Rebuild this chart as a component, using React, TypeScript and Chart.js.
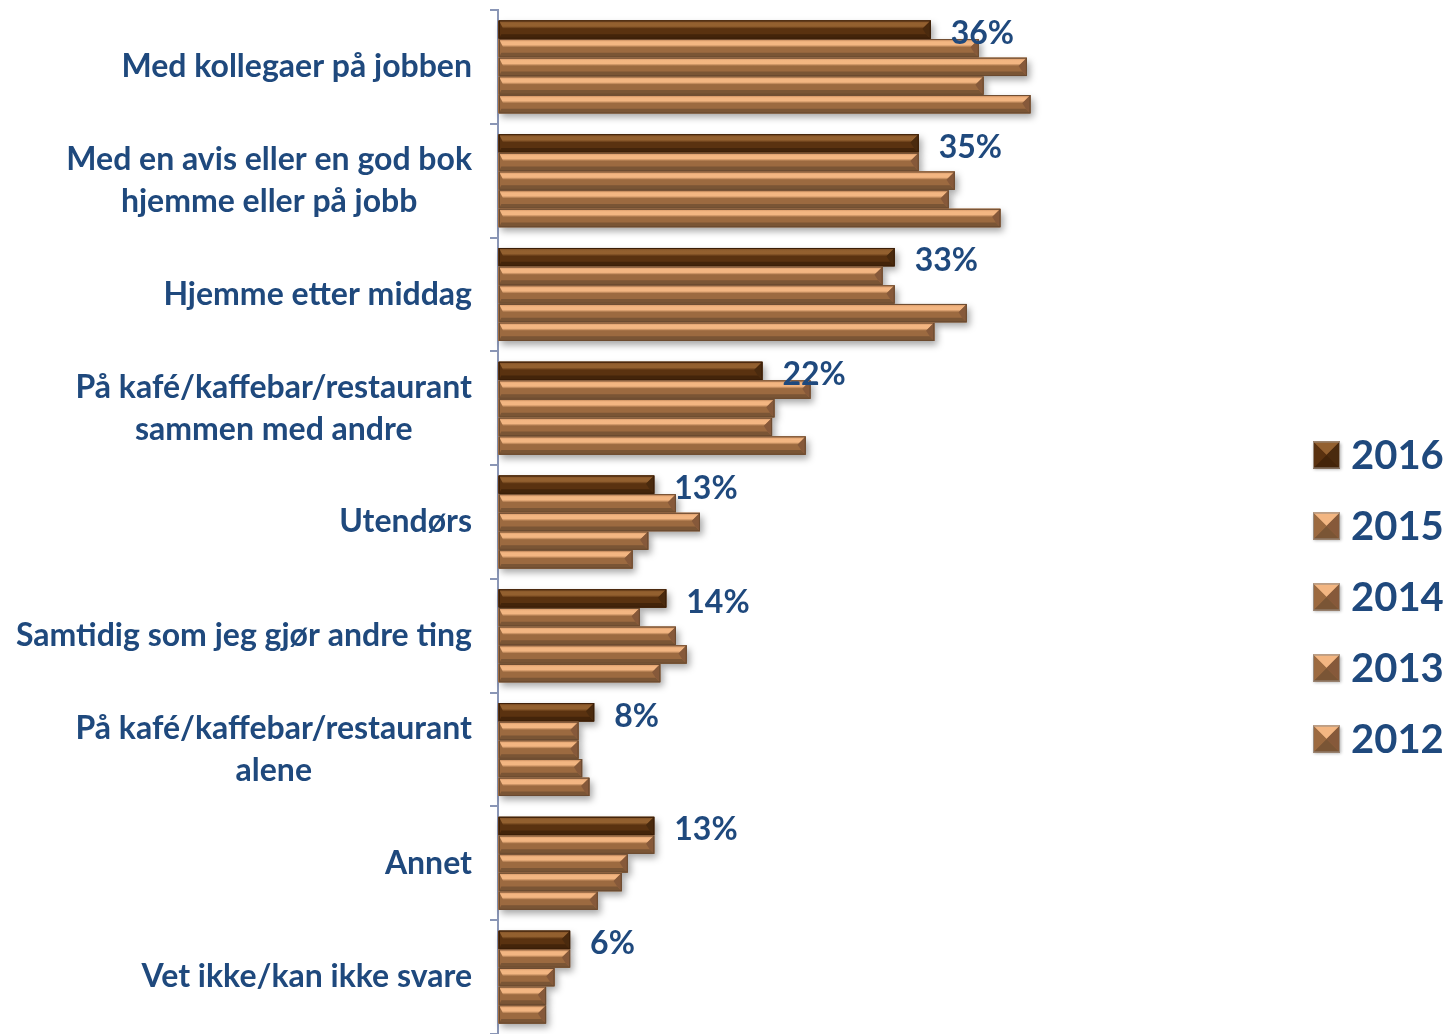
import { useEffect, useRef } from "react";
import { Chart, registerables } from "chart.js";
Chart.register(...registerables);

const categories: string[][] = [
  ["Med kollegaer på jobben"],
  ["Med en avis eller en god bok", "hjemme eller på jobb"],
  ["Hjemme etter middag"],
  ["På kafé/kaffebar/restaurant", "sammen med andre"],
  ["Utendørs"],
  ["Samtidig som jeg gjør andre ting"],
  ["På kafé/kaffebar/restaurant", "alene"],
  ["Annet"],
  ["Vet ikke/kan ikke svare"],
];
const years = ["2016", "2015", "2014", "2013", "2012"];
const v2016 = [36, 35, 33, 22, 13, 14, 8, 13, 6];
const v2015 = [40, 35, 32, 26, 14.8, 11.8, 6.7, 13, 6];
const v2014 = [44, 38, 33, 23, 16.8, 14.8, 6.7, 10.8, 4.7];
const v2013 = [40.4, 37.5, 39, 22.8, 12.5, 15.7, 7, 10.3, 4];
const v2012 = [44.3, 41.8, 36.3, 25.6, 11.2, 13.5, 7.6, 8.3, 4];
const series = [v2016, v2015, v2014, v2013, v2012];
const valueLabels = ["36%", "35%", "33%", "22%", "13%", "14%", "8%", "13%", "6%"];

const TEXT = "#1F497D";
const AXIS = "#8a96b6";

type Pal = { main: string; top1: string; top2: string; bottom: string; side: string; left: string; edge: string };
const darkPal: Pal = {
  main: "#5a3210",
  top1: "#7a4a22",
  top2: "#93602f",
  bottom: "#43240a",
  side: "#4a2a0e",
  left: "#6a3e18",
  edge: "#3a1e08",
};
const lightPal: Pal = {
  main: "#9c6a40",
  top1: "#cf9060",
  top2: "#f3b682",
  bottom: "#7a5535",
  side: "#86593a",
  left: "#b07846",
  edge: "#6a4a30",
};

function poly(ctx: CanvasRenderingContext2D, pts: number[][], fill: string | CanvasGradient) {
  ctx.beginPath();
  ctx.moveTo(pts[0][0], pts[0][1]);
  for (let i = 1; i < pts.length; i++) ctx.lineTo(pts[i][0], pts[i][1]);
  ctx.closePath();
  ctx.fillStyle = fill;
  ctx.fill();
}

function drawBevelRect(ctx: CanvasRenderingContext2D, x0: number, y0: number, x1: number, y1: number, pal: Pal) {
  const w = x1 - x0;
  const h = y1 - y0;
  if (w <= 0 || h <= 0) return;
  const bt = Math.min(h * 0.45, w / 2);
  const bb = Math.min(h * 0.25, w / 2);
  const g0 = ctx.createLinearGradient(0, y0, 0, y1);
  g0.addColorStop(0, pal.main);
  g0.addColorStop(1, pal.main);
  ctx.fillStyle = pal.main;
  ctx.fillRect(x0, y0, w, h);
  const g = ctx.createLinearGradient(0, y0, 0, y0 + bt);
  g.addColorStop(0, pal.top1);
  g.addColorStop(0.35, pal.top2);
  g.addColorStop(0.7, pal.top2);
  g.addColorStop(1, pal.main);
  poly(ctx, [[x0, y0], [x1, y0], [x1 - bt, y0 + bt], [x0 + bt * 0.5, y0 + bt]], g);
  poly(ctx, [[x0, y1], [x1, y1], [x1 - bb, y1 - bb], [x0 + bb * 0.5, y1 - bb]], pal.bottom);
  poly(ctx, [[x1, y0], [x1, y1], [x1 - bb, y1 - bb], [x1 - bt, y0 + bt]], pal.side);
  ctx.strokeStyle = pal.edge;
  ctx.lineWidth = 1;
  ctx.strokeRect(x0 + 0.5, y0 + 0.5, w - 1, h - 1);
}

const bevelPlugin = {
  id: "bevel",
  beforeDatasetsDraw(chart: any) {
    const ctx: CanvasRenderingContext2D = chart.ctx;
    ctx.save();
    chart.data.datasets.forEach((_d: any, di: number) => {
      const meta = chart.getDatasetMeta(di);
      meta.data.forEach((bar: any) => {
        const x0 = Math.min(bar.base, bar.x);
        const x1 = Math.max(bar.base, bar.x);
        const y0 = bar.y - bar.height / 2;
        ctx.save();
        ctx.shadowColor = "rgba(0,0,0,0.35)";
        ctx.shadowBlur = 7;
        ctx.shadowOffsetX = 3;
        ctx.shadowOffsetY = 4;
        ctx.fillStyle = "#888";
        ctx.fillRect(x0, y0, x1 - x0, bar.height);
        ctx.restore();
      });
    });
    ctx.restore();
  },
  afterDatasetsDraw(chart: any) {
    const ctx: CanvasRenderingContext2D = chart.ctx;
    ctx.save();
    chart.data.datasets.forEach((_d: any, di: number) => {
      const meta = chart.getDatasetMeta(di);
      const pal = di === 0 ? darkPal : lightPal;
      meta.data.forEach((bar: any) => {
        const x0 = Math.min(bar.base, bar.x) + 1;
        const x1 = Math.max(bar.base, bar.x);
        const y0 = bar.y - bar.height / 2;
        drawBevelRect(ctx, x0, y0, x1, y0 + bar.height, pal);
      });
    });
    const meta0 = chart.getDatasetMeta(0);
    ctx.font = "bold 32px Lato";
    ctx.fillStyle = TEXT;
    ctx.textAlign = "left";
    ctx.textBaseline = "middle";
    meta0.data.forEach((bar: any, i: number) => {
      ctx.fillText(valueLabels[i], bar.x + 20, bar.y + 4);
    });
    ctx.restore();
  },
  afterDraw(chart: any) {
    const ctx: CanvasRenderingContext2D = chart.ctx;
    const yScale = chart.scales.y;
    ctx.save();
    ctx.font = "bold 32px Lato";
    ctx.fillStyle = TEXT;
    ctx.textAlign = "center";
    ctx.textBaseline = "middle";
    const right = 472;
    const lh = 42;
    categories.forEach((lines, i) => {
      const cy = yScale.getPixelForValue(i);
      const widest = Math.max(...lines.map((l) => ctx.measureText(l).width));
      const cx = right - widest / 2;
      const start = cy - ((lines.length - 1) * lh) / 2;
      lines.forEach((l, k) => ctx.fillText(l, cx, start + k * lh));
    });
    const sq = 27;
    const sx = 1313;
    const tx = 1351;
    ctx.font = "bold 40px Lato";
    ctx.textAlign = "left";
    years.forEach((yr, i) => {
      const cy = 455 + i * 71;
      const pal = i === 0 ? darkPal : lightPal;
      const x0 = sx, y0 = cy - sq / 2, x1 = sx + sq, y1 = cy + sq / 2;
      const mx = (x0 + x1) / 2, my = (y0 + y1) / 2;
      ctx.save();
      ctx.shadowColor = "rgba(0,0,0,0.3)";
      ctx.shadowBlur = 3;
      ctx.shadowOffsetX = 1;
      ctx.shadowOffsetY = 1;
      ctx.fillStyle = pal.main;
      ctx.fillRect(x0, y0, sq, sq);
      ctx.restore();
      poly(ctx, [[x0, y0], [x1, y0], [mx, my]], pal.top2);
      poly(ctx, [[x0, y1], [x1, y1], [mx, my]], pal.bottom);
      poly(ctx, [[x0, y0], [x0, y1], [mx, my]], pal.main);
      poly(ctx, [[x1, y0], [x1, y1], [mx, my]], pal.side);
      ctx.strokeStyle = "#9a8c80";
      ctx.lineWidth = 1;
      ctx.strokeRect(x0 + 0.5, y0 + 0.5, sq - 1, sq - 1);
      ctx.fillStyle = TEXT;
      ctx.fillText(yr, tx, cy + 1);
    });
    ctx.restore();
  },
};

export default function App() {
  const ref = useRef<HTMLCanvasElement | null>(null);
  useEffect(() => {
    document.body.style.margin = "0";
    const canvas = ref.current!;
    const chart = new Chart(canvas, {
      type: "bar",
      data: {
        labels: categories.map((c) => c.join(" ")),
        datasets: years.map((y, i) => ({
          label: y,
          data: series[i],
          backgroundColor: i === 0 ? darkPal.main : lightPal.main,
          borderWidth: 0,
          categoryPercentage: 0.82,
          barPercentage: 0.98,
        })),
      },
      options: {
        indexAxis: "y",
        animation: false,
        responsive: false,
        maintainAspectRatio: false,
        layout: { padding: { top: 10, right: 349, bottom: 0, left: 0 } },
        plugins: { legend: { display: false }, tooltip: { enabled: false } },
        scales: {
          x: { display: false, min: 0, max: 50 },
          y: {
            ticks: { display: false },
            grid: { drawOnChartArea: false, tickLength: 8, color: AXIS, lineWidth: 2, offset: true },
            border: { display: true, color: AXIS, width: 2 },
            afterFit: (s: any) => {
              s.width = 498;
            },
          },
        },
      } as any,
      plugins: [bevelPlugin],
    });
    return () => chart.destroy();
  }, []);
  return (
    <div style={{ width: 1448, height: 1034, background: "#fff" }}>
      <canvas ref={ref} width={1448} height={1034} style={{ display: "block" }} />
    </div>
  );
}
